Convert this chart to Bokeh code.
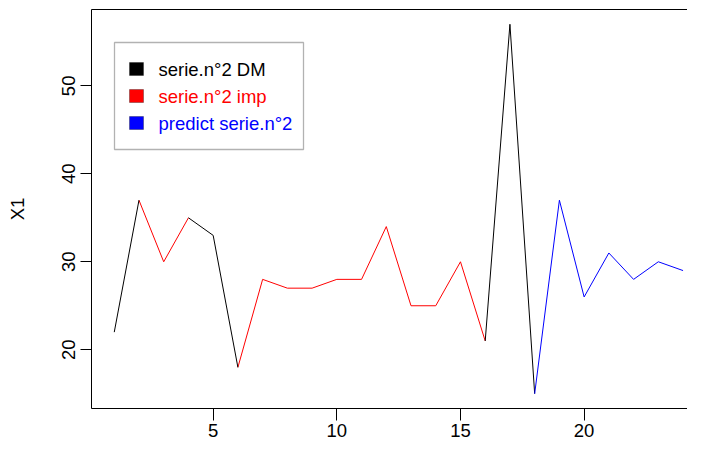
import math
from bokeh.plotting import figure
from bokeh.models import (Range1d, FixedTicker, LinearAxis, BoxAnnotation, Label)
from bokeh.embed import file_html
from bokeh.resources import INLINE

nan = math.nan

# ---- data ----
x_obs = list(range(1, 19))
# imputed stretches (red), drawn where a segment touches an imputed value
serie_imp = [nan, 37, 30, 35, nan, 18, 28, 27, 27, 28, 28, 34, 25, 25, 30, 21, nan, nan]
# observed stretches (black)
serie_dm = [22, 37, nan, 35, 33, 18, nan, nan, nan, nan, nan, nan, nan, nan, nan, 21, 57, 15]
x_pred = list(range(18, 25))
predict = [15, 37, 26, 31, 28, 30, 29]

x_ticks = [5, 10, 15, 20]
y_ticks = [20, 30, 40, 50]
legend_labels = ["serie.n\u00b02 DM", "serie.n\u00b02 imp", "predict serie.n\u00b02"]
legend_colors = ["#000000", "#FF0000", "#0000FF"]

FONT = "Liberation Sans"
FS = "18.5px"

p = figure(width=687, height=445, output_backend="svg", toolbar_location=None,
           x_range=Range1d(0.08, 24.18), y_range=Range1d(13.32, 58.68),
           min_border_left=91, min_border_right=0, min_border_top=9, min_border_bottom=37)
p.outline_line_color = None
p.xgrid.visible = False
p.ygrid.visible = False
p.background_fill_color = "white"
p.border_fill_color = "white"

# lines
p.line(x_obs, serie_imp, line_color="#FF0000", line_width=1)
p.line(x_obs, serie_dm, line_color="#000000", line_width=1)
p.line(x_pred, predict, line_color="#0000FF", line_width=1)

# axes
xa = p.xaxis[0]
xa.ticker = FixedTicker(ticks=x_ticks)
xa.major_tick_out = 12
xa.major_tick_in = 0
xa.minor_tick_line_color = None
xa.major_label_standoff = 3
xa.major_label_text_font = FONT
xa.major_label_text_font_size = FS
xa.major_label_text_color = "black"
xa.axis_line_color = "black"
xa.major_tick_line_color = "black"

ya = p.yaxis[0]
ya.ticker = FixedTicker(ticks=y_ticks)
ya.major_tick_out = 11
ya.major_tick_in = 0
ya.minor_tick_line_color = None
ya.major_label_orientation = "vertical"
ya.major_label_standoff = 5
ya.major_label_text_font = FONT
ya.major_label_text_font_size = FS
ya.major_label_text_color = "black"
ya.axis_label = "X1"
ya.axis_label_text_font = FONT
ya.axis_label_text_font_size = FS
ya.axis_label_text_font_style = "normal"
ya.axis_label_text_color = "black"
ya.axis_label_standoff = 32
ya.axis_line_color = "black"
ya.major_tick_line_color = "black"

top = LinearAxis(ticker=FixedTicker(ticks=[]), major_tick_out=0, major_tick_in=0,
                 minor_tick_out=0, minor_tick_in=0, major_label_standoff=0,
                 major_tick_line_color=None, minor_tick_line_color=None,
                 major_label_text_font_size="0px", axis_line_color="black")
p.add_layout(top, "above")

# legend (screen units, frame-relative)
p.add_layout(BoxAnnotation(left=23, right=212, top=366, bottom=259,
                           left_units="screen", right_units="screen",
                           top_units="screen", bottom_units="screen",
                           fill_color="white", fill_alpha=1.0,
                           line_color="black", line_width=1.3, level="overlay"))
row_y = [339.5, 312.5, 285.5]
for lab, col, yc in zip(legend_labels, legend_colors, row_y):
    p.add_layout(BoxAnnotation(left=38, right=52, top=yc + 6.5, bottom=yc - 6.5,
                               left_units="screen", right_units="screen",
                               top_units="screen", bottom_units="screen",
                               fill_color=col, fill_alpha=1.0,
                               line_color="black", line_width=1, level="overlay"))
    p.add_layout(Label(x=67, y=yc, x_units="screen", y_units="screen", text=lab,
                       text_color=col, text_font=FONT, text_font_size=FS,
                       text_baseline="middle", text_align="left", level="overlay"))

open("out.html", "w").write(file_html(p, INLINE))
